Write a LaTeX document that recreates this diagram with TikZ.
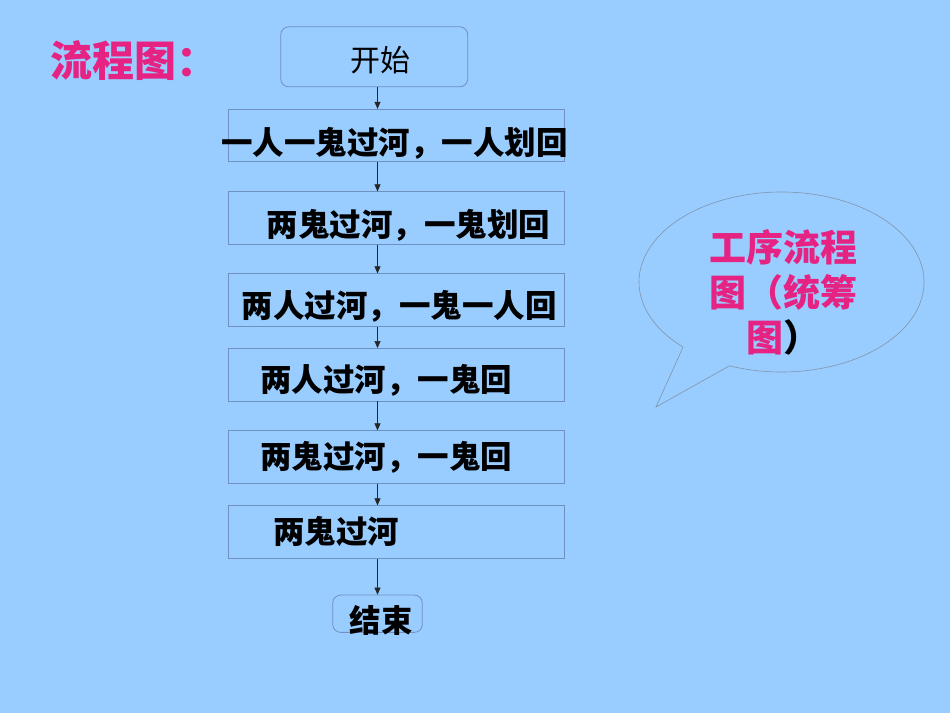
\documentclass[tikz,border=0pt]{standalone}
\usepackage{fontspec}
\newfontfamily\cjk{Noto Sans CJK SC}
\usetikzlibrary{calc}
\usetikzlibrary{arrows.meta}
\definecolor{bg}{HTML}{99CCFF}
\definecolor{rose}{HTML}{E62282}
\definecolor{frame}{HTML}{7090C0}
\definecolor{bubline}{HTML}{8095AA}

\begin{document}
\begin{tikzpicture}[x=1pt,y=-1pt,
	stepbox/.style={draw=frame, line width=0.8pt, minimum width=336pt, minimum height=52.5pt, inner sep=0pt},
	endbox/.style={draw=frame, line width=0.8pt, rounded corners=8pt, inner sep=0pt},
	steptext/.style={font=\cjk\bfseries\fontsize{31.5}{36}\selectfont, inner sep=0pt, anchor=west},
	pinktext/.style={font=\cjk\bfseries\fontsize{37}{45}\selectfont, text=rose, inner sep=0pt},
	arr/.style={-{Triangle[width=6pt,length=7pt]}, line width=0.6pt, black!85}]
			\fill[bg] (0,0) rectangle (950,713);
			\useasboundingbox (0,0) rectangle (950,713);

			\node[pinktext, font=\cjk\bfseries\fontsize{42}{48}\selectfont, anchor=west] (title) at (50,60) {流程图：};

			\node[endbox, minimum width=187pt, minimum height=60pt] (start) at (374.2,56.8) {};
			\node[inner sep=0pt, font=\cjk\fontsize{30}{36}\selectfont] (tstart) at ($(start)+(6,3)$) {开始};

			\node[stepbox] (s1) at (396.3,135.5) {};
			\node[stepbox] (s2) at (396.3,218) {};
			\node[stepbox] (s3) at (396.3,300) {};
			\node[stepbox] (s4) at (396.3,374.7) {};
			\node[stepbox] (s5) at (396.3,457) {};
			\node[stepbox] (s6) at (396.3,532) {};

			\node[steptext] (t1) at ($(s1.west)+(-6.8,8)$) {一人一鬼过河，一人划回};
			\node[steptext] (t2) at ($(s2.west)+(38.5,7.5)$) {两鬼过河，一鬼划回};
			\node[steptext] (t3) at ($(s3.west)+(13.5,6)$) {两人过河，一鬼一人回};
			\node[steptext] (t4) at ($(s4.west)+(32,6)$) {两人过河，一鬼回};
			\node[steptext] (t5) at ($(s5.west)+(32,0)$) {两鬼过河，一鬼回};
			\node[steptext] (t6) at ($(s6.west)+(45,-1)$) {两鬼过河};

			\node[endbox, minimum width=89.6pt, minimum height=37.3pt] (stop) at (377.5,613.7) {};
			\node[steptext, anchor=center] (tstop) at ($(stop)+(3.7,6.3)$) {结束};

			%axis of the arrows
			\coordinate (axis) at (377.5,0);

			\draw[arr] (start.south -| axis) -- (s1.north -| axis);
			\draw[arr] (s1.south -| axis) -- (s2.north -| axis);
			\draw[arr] (s2.south -| axis) -- (s3.north -| axis);
			\draw[arr] (s3.south -| axis) -- (s4.north -| axis);
			\draw[arr] (s4.south -| axis) -- (s5.north -| axis);
			\draw[arr] (s5.south -| axis) -- (s6.north -| axis);
			\draw[arr] (s6.south -| axis) -- (stop.north -| axis);

			%speech bubble
			\coordinate (bub) at (781.5,282);
			\coordinate (tip) at (656,407);
			\draw[bubline, line width=0.6pt] ($(bub)+(111.4:142.5 and 90)$) arc[start angle=111.4, end angle=-226.3, x radius=142.5, y radius=90] -- (tip) -- cycle;
			\node[pinktext, align=center] (tbub) at ($(bub)+(1.5,10)$) {工序流程\\图（统筹\\图{\color{black}）}};

		\end{tikzpicture}
\end{document}
